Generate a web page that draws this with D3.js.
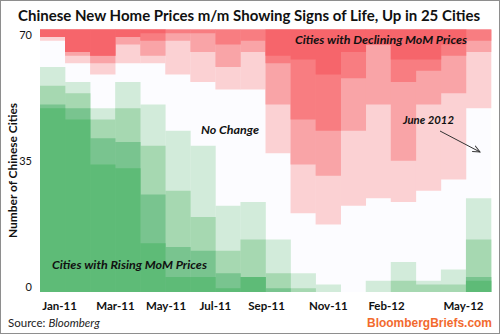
<!DOCTYPE html>
<html>
<head>
<meta charset="utf-8">
<script src="https://cdn.jsdelivr.net/npm/d3@7"></script>
<style>
  body { margin: 0; background: #fff; }
  svg { display: block; font-family: Lato, "Open Sans", sans-serif; }
</style>
</head>
<body>
<div id="chart"></div>
<script>
// months on the x axis
var months = ["Jan-11", "Feb-11", "Mar-11", "Apr-11", "May-11", "Jun-11",
  "Jul-11", "Aug-11", "Sep-11", "Oct-11", "Nov-11", "Dec-11",
  "Jan-12", "Feb-12", "Mar-12", "Apr-12", "May-12", "Jun-12"];

// cities with rising prices, outer band = all risers, inner bands = bigger gains
var riseAll  = [60, 56, 49, 56, 50, 43, 39, 23, 24, 14, 5, 2, 0, 3, 8, 3, 6, 25];
var riseMid  = [55, 53, 46, 49, 39, 27, 20, 11, 14, 5, 1, 0, 0, 0, 3, 2, 2, 14];
var riseHigh = [50, 49, 41, 40, 26, 12, 11, 5, 4, 1, 0, 0, 0, 0, 0, 0, 0, 4];
var riseTop  = [49, 46, 34, 33, 13, 4, 4, 1, 4, 0, 0, 0, 0, 0, 0, 0, 0, 3];

// cities with declining prices, counted down from the top
var fallAll  = [3, 9, 12, 9, 9, 12, 14, 16, 16, 33, 49, 52, 47, 45, 46, 43, 40, 21];
var fallMid  = [2, 7, 9, 4, 7, 3, 6, 10, 6, 20, 36, 39, 27, 20, 35, 20, 17, 6];
var fallHigh = [2, 6, 7, 2, 3, 1, 1, 4, 3, 9, 24, 27, 13, 4, 14, 11, 7, 3];
var fallTop  = [2, 6, 7, 2, 1, 0, 0, 0, 0, 7, 8, 12, 6, 4, 8, 8, 4, 0];

var totalCities = 70;
var yTicks = [0, 35, 70];
var xLabels = ["Jan-11", "Mar-11", "May-11", "Jul-11", "Sep-11", "Nov-11", "Feb-12", "May-12"];
var xLabelAt = [0.76, 2.99, 5.01, 6.98, 9.02, 11.49, 13.81, 16.88];

var svgWidth = 500, svgHeight = 334;
var plot = { left: 40, right: 491, top: 29.5, bottom: 292 };

var svg = d3.select("#chart").append("svg")
  .attr("width", svgWidth)
  .attr("height", svgHeight);

svg.append("rect")
  .attr("x", 0.5).attr("y", 0.5)
  .attr("width", svgWidth - 1).attr("height", svgHeight - 1)
  .attr("fill", "#fff")
  .attr("stroke", "#8e8e8e");

var x = d3.scaleLinear().domain([0, months.length]).range([plot.left, plot.right]);
var y = d3.scaleLinear().domain([0, totalCities]).range([plot.bottom, plot.top]);

// "no change" background
svg.append("rect")
  .attr("x", x(0)).attr("y", y(totalCities))
  .attr("width", x(months.length) - x(0))
  .attr("height", y(0) - y(totalCities))
  .attr("fill", "#fcfcff");

var greens = [
  { vals: riseAll,  color: "#d2ebda" },
  { vals: riseMid,  color: "#a6d8b1" },
  { vals: riseHigh, color: "#79c48f" },
  { vals: riseTop,  color: "#5ebb77" }
];
var reds = [
  { vals: fallAll,  color: "#fbd1d3" },
  { vals: fallMid,  color: "#f9a4a7" },
  { vals: fallHigh, color: "#f87d81" },
  { vals: fallTop,  color: "#f6656b" }
];

var bars = svg.append("g");

greens.forEach(function(layer) {
  bars.append("g").selectAll("rect")
    .data(layer.vals)
    .enter().append("rect")
    .attr("x", (d, i) => x(i))
    .attr("width", (d, i) => x(i + 1) - x(i) + 0.3)
    .attr("y", d => y(d))
    .attr("height", d => y(0) - y(d))
    .attr("fill", layer.color);
});

reds.forEach(function(layer) {
  bars.append("g").selectAll("rect")
    .data(layer.vals)
    .enter().append("rect")
    .attr("x", (d, i) => x(i))
    .attr("width", (d, i) => x(i + 1) - x(i) + 0.3)
    .attr("y", y(totalCities))
    .attr("height", d => y(totalCities - d) - y(totalCities))
    .attr("fill", layer.color);
});

// axes
var yAxis = svg.append("g")
  .attr("transform", "translate(" + (plot.left - 8) + ",0)")
  .call(d3.axisLeft(y).tickValues(yTicks).tickSize(0).tickPadding(0));
yAxis.select(".domain").remove();
yAxis.selectAll("text")
  .attr("font-family", "Lato, sans-serif")
  .attr("font-size", 11)
  .attr("fill", "#111")
  .attr("dy", d => d === 0 ? "-0.12em" : d === totalCities ? "0.86em" : "0.36em");

var xAxis = svg.append("g")
  .attr("transform", "translate(0," + plot.bottom + ")")
  .call(d3.axisBottom(x).tickValues(xLabelAt)
    .tickFormat((d, i) => xLabels[i]).tickSize(0).tickPadding(0));
xAxis.select(".domain").remove();
xAxis.selectAll("text")
  .attr("font-family", "Lato, sans-serif")
  .attr("font-size", 11.5)
  .attr("font-weight", "bold")
  .attr("fill", "#111")
  .attr("dy", null)
  .attr("y", 18);

// titles
svg.append("text")
  .attr("x", 18).attr("y", 21)
  .attr("font-size", 15.5)
  .attr("font-weight", "bold")
  .attr("fill", "#111")
  .attr("textLength", 462)
  .attr("lengthAdjust", "spacingAndGlyphs")
  .text("Chinese New Home Prices m/m Showing Signs of Life, Up in 25 Cities");

svg.append("text")
  .attr("transform", "translate(17," + 170.5 + ") rotate(-90)")
  .attr("text-anchor", "middle")
  .attr("font-size", 11.5)
  .attr("font-weight", "bold")
  .attr("fill", "#111")
  .attr("textLength", 135)
  .attr("lengthAdjust", "spacingAndGlyphs")
  .text("Number of Chinese Cities");

// annotations inside the plot
function note(tx, ty, len, str) {
  svg.append("text")
    .attr("x", tx).attr("y", ty)
    .attr("font-size", 11.5)
    .attr("font-weight", "bold")
    .attr("font-style", "italic")
    .attr("fill", "#111")
    .attr("textLength", len)
    .attr("lengthAdjust", "spacingAndGlyphs")
    .text(str);
}
note(295, 43.5, 172, "Cities with Declining MoM Prices");
note(201, 134, 58, "No Change");
note(403, 123.5, 51, "June 2012");
note(52, 269, 155, "Cities with Rising MoM Prices");

svg.append("defs").append("marker")
  .attr("id", "arrow")
  .attr("viewBox", "0 0 10 10")
  .attr("refX", 9).attr("refY", 5)
  .attr("markerWidth", 8).attr("markerHeight", 8)
  .attr("orient", "auto")
  .append("path")
  .attr("d", "M0,1 L9,5 L0,9")
  .attr("fill", "none")
  .attr("stroke", "#333")
  .attr("stroke-width", 1.2);

svg.append("line")
  .attr("x1", 440).attr("y1", 131)
  .attr("x2", 480).attr("y2", 152)
  .attr("stroke", "#333")
  .attr("stroke-width", 1)
  .attr("marker-end", "url(#arrow)");

// footer
var src = svg.append("text")
  .attr("x", 8).attr("y", 327)
  .attr("font-size", 11.5)
  .attr("fill", "#222");
src.append("tspan").text("Source: ");
src.append("tspan").attr("font-style", "italic").text("Bloomberg");

svg.append("text")
  .attr("x", 492).attr("y", 326.5)
  .attr("text-anchor", "end")
  .attr("font-family", "'Liberation Sans', Arial, sans-serif")
  .attr("font-size", 12)
  .attr("font-weight", "bold")
  .attr("fill", "#f26a2e")
  .attr("textLength", 125)
  .attr("lengthAdjust", "spacingAndGlyphs")
  .text("BloombergBriefs.com");
</script>
</body>
</html>
